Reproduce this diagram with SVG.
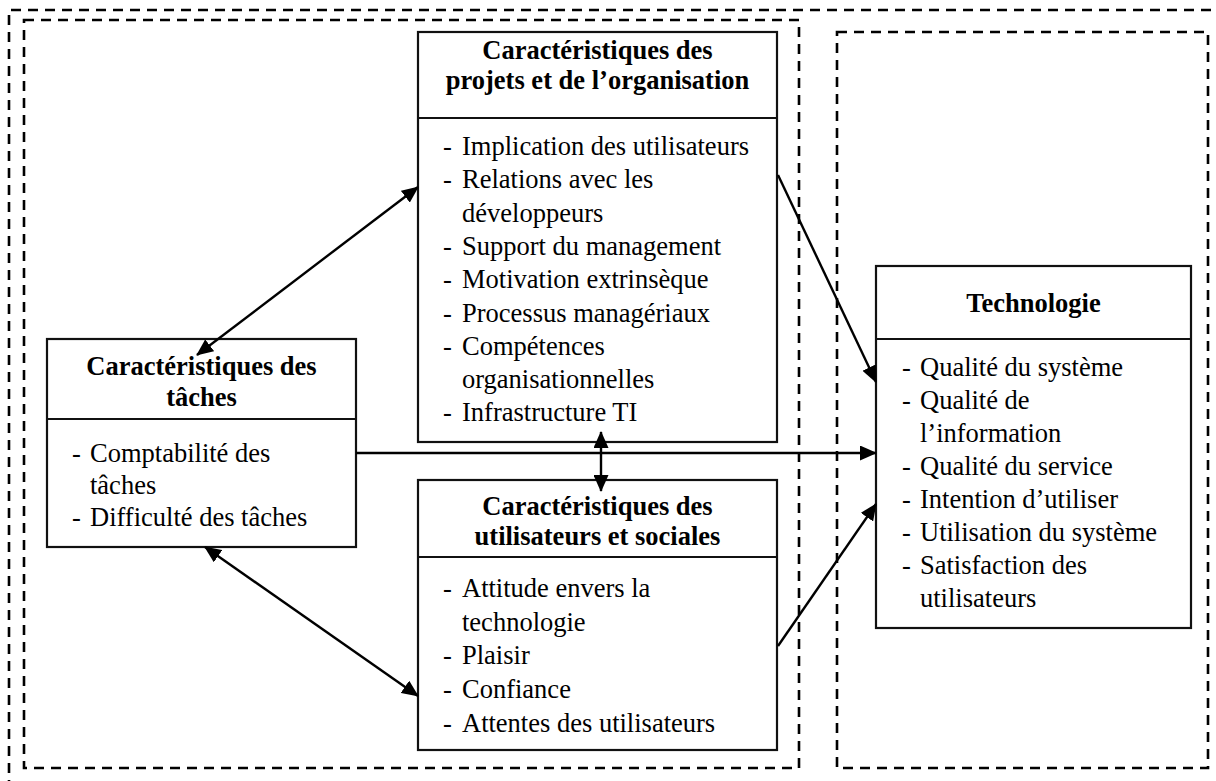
<svg xmlns="http://www.w3.org/2000/svg" width="1216" height="781" viewBox="0 0 1216 781">
  <style>
    .frame { fill: none; stroke: #000; stroke-width: 2.6; stroke-dasharray: 10 7; }
    .box { fill: #fff; stroke: #111; stroke-width: 2.2; }
    .div { stroke: #111; stroke-width: 2.2; }
    .title { font-family: "Liberation Serif", "Times New Roman", serif; font-size: 26.5px; font-weight: bold; text-anchor: middle; fill: #000; }
    .item { font-family: "Liberation Serif", "Times New Roman", serif; font-size: 26.5px; fill: #000; }
    .link { fill: none; stroke: #000; stroke-width: 2.4; }
  </style>
  <defs>
    <marker id="head" viewBox="0 0 17 15" refX="16" refY="7.5" markerWidth="17" markerHeight="15" markerUnits="userSpaceOnUse" orient="auto-start-reverse">
      <path d="M0,0 L17,7.5 L0,15 Z" fill="#000"/>
    </marker>
  </defs>

  <rect width="1216" height="781" fill="#fff"/>

  <!-- dashed grouping frames -->
  <g id="frames">
    <path class="frame" d="M9,790 V10 H1230"/>
    <rect class="frame" x="24" y="20" width="775" height="748"/>
    <rect class="frame" x="837" y="32" width="371" height="736"/>
  </g>

  <!-- task characteristics -->
  <g id="taches">
    <rect class="box" x="47" y="339" width="309" height="208"/>
    <line class="div" x1="47" y1="419" x2="356" y2="419"/>
    <text class="title" x="201.5" y="375">Caractéristiques des</text>
    <text class="title" x="201.5" y="406">tâches</text>
    <text class="item"><tspan x="72" y="462">-</tspan><tspan x="90" y="462">Comptabilité des</tspan></text>
    <text class="item" x="90" y="494">tâches</text>
    <text class="item"><tspan x="72" y="526">-</tspan><tspan x="90" y="526">Difficulté des tâches</tspan></text>
  </g>

  <!-- project and organisation characteristics -->
  <g id="projets">
    <rect class="box" x="418" y="32" width="359" height="410"/>
    <line class="div" x1="418" y1="118" x2="777" y2="118"/>
    <text class="title" x="597.5" y="59">Caractéristiques des</text>
    <text class="title" x="597.5" y="89">projets et de l’organisation</text>
    <text class="item"><tspan x="443" y="155">-</tspan><tspan x="462" y="155">Implication des utilisateurs</tspan></text>
    <text class="item"><tspan x="443" y="188">-</tspan><tspan x="462" y="188">Relations avec les</tspan></text>
    <text class="item" x="462" y="222">développeurs</text>
    <text class="item"><tspan x="443" y="255">-</tspan><tspan x="462" y="255">Support du management</tspan></text>
    <text class="item"><tspan x="443" y="288">-</tspan><tspan x="462" y="288">Motivation extrinsèque</tspan></text>
    <text class="item"><tspan x="443" y="322">-</tspan><tspan x="462" y="322">Processus managériaux</tspan></text>
    <text class="item"><tspan x="443" y="355">-</tspan><tspan x="462" y="355">Compétences</tspan></text>
    <text class="item" x="462" y="388">organisationnelles</text>
    <text class="item"><tspan x="443" y="421">-</tspan><tspan x="462" y="421">Infrastructure TI</tspan></text>
  </g>

  <!-- user and social characteristics -->
  <g id="utilisateurs">
    <rect class="box" x="418" y="480" width="359" height="270"/>
    <line class="div" x1="418" y1="557" x2="777" y2="557"/>
    <text class="title" x="597.5" y="515">Caractéristiques des</text>
    <text class="title" x="597.5" y="545">utilisateurs et sociales</text>
    <text class="item"><tspan x="443" y="597">-</tspan><tspan x="462" y="597">Attitude envers la</tspan></text>
    <text class="item" x="462" y="631">technologie</text>
    <text class="item"><tspan x="443" y="664">-</tspan><tspan x="462" y="664">Plaisir</tspan></text>
    <text class="item"><tspan x="443" y="698">-</tspan><tspan x="462" y="698">Confiance</tspan></text>
    <text class="item"><tspan x="443" y="732">-</tspan><tspan x="462" y="732">Attentes des utilisateurs</tspan></text>
  </g>

  <!-- technology -->
  <g id="technologie">
    <rect class="box" x="876" y="266" width="315" height="362"/>
    <line class="div" x1="876" y1="339" x2="1191" y2="339"/>
    <text class="title" x="1033.5" y="312">Technologie</text>
    <text class="item"><tspan x="902" y="376">-</tspan><tspan x="920" y="376">Qualité du système</tspan></text>
    <text class="item"><tspan x="902" y="409">-</tspan><tspan x="920" y="409">Qualité de</tspan></text>
    <text class="item" x="920" y="442">l’information</text>
    <text class="item"><tspan x="902" y="475">-</tspan><tspan x="920" y="475">Qualité du service</tspan></text>
    <text class="item"><tspan x="902" y="508">-</tspan><tspan x="920" y="508">Intention d’utiliser</tspan></text>
    <text class="item"><tspan x="902" y="541">-</tspan><tspan x="920" y="541">Utilisation du système</tspan></text>
    <text class="item"><tspan x="902" y="574">-</tspan><tspan x="920" y="574">Satisfaction des</tspan></text>
    <text class="item" x="920" y="607">utilisateurs</text>
  </g>

  <!-- connectors -->
  <g id="connectors">
    <path class="link" d="M197,355 L418,187" marker-start="url(#head)" marker-end="url(#head)"/>
    <path class="link" d="M205,547 L418,696" marker-start="url(#head)" marker-end="url(#head)"/>
    <path class="link" d="M601,432 L601,491" marker-start="url(#head)" marker-end="url(#head)"/>
    <path class="link" d="M356,453 L876,453" marker-end="url(#head)"/>
    <path class="link" d="M778,175 L876,382" marker-end="url(#head)"/>
    <path class="link" d="M778,646 L876,504" marker-end="url(#head)"/>
  </g>
</svg>
